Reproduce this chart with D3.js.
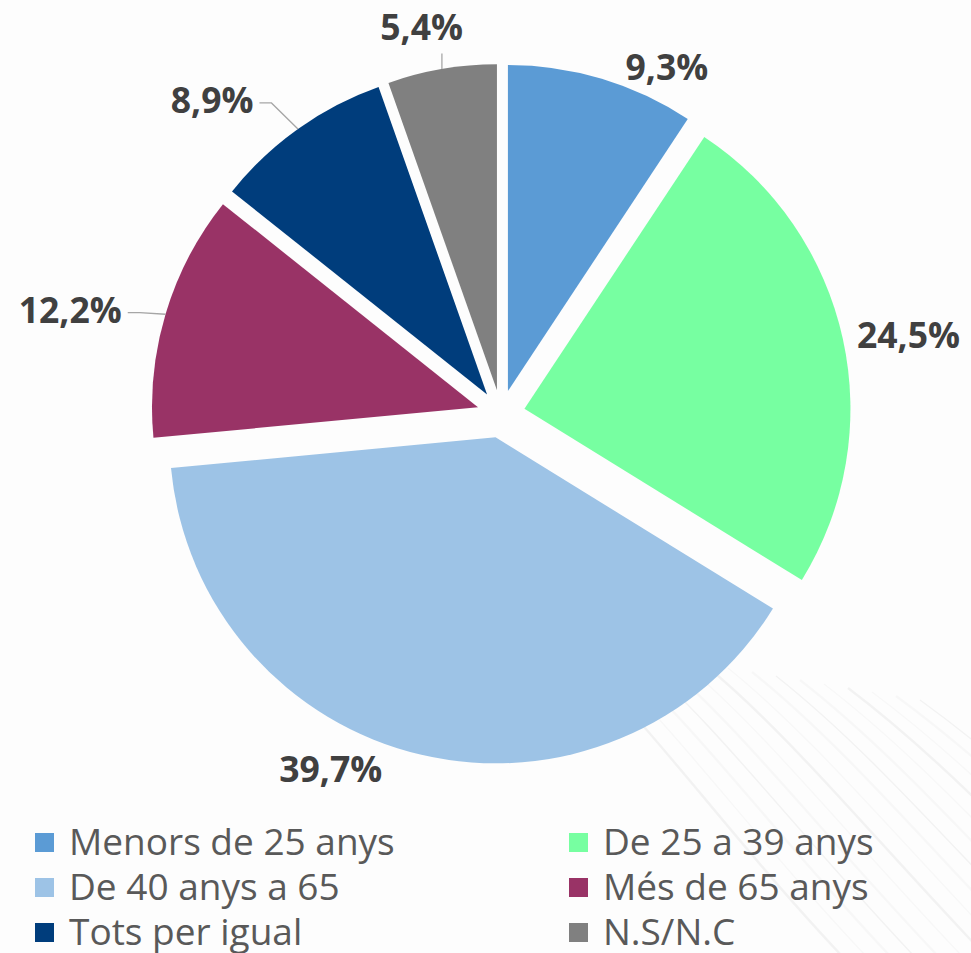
<!DOCTYPE html>
<html>

<head>
    <meta charset="utf-8">
    <title>Distribució per edats</title>
    <script src="https://d3js.org/d3.v7.min.js"></script>
    <style>
        html, body { margin: 0; padding: 0; background: #fdfdfd; }
        svg { display: block; }
    </style>
</head>

<body>
    <script>
        // chart data
        const categories = ["Menors de 25 anys", "De 25 a 39 anys", "De 40 anys a 65", "Més de 65 anys", "Tots per igual", "N.S/N.C"];
        const values = [9.3, 24.5, 39.7, 12.2, 8.9, 5.4];
        const colors = ["#5B9BD5", "#77FFA1", "#9DC3E6", "#993366", "#003D7C", "#808080"];

        // where each value label sits: [angle in degrees from 12 o'clock, distance from pie centre]
        const labelPolar = [[25.6, 384], [79.1, 415], [205.6, 394], [283.5, 443], [317.3, 426], [348.4, 395]];
        // leader line type per label (null = none)
        const leaders = [null, null, null, "right", "right", "bottom"];

        const width = 971;
        const height = 953;
        const cx = 501, cy = 414;
        const radius = 326;
        const explode = 24;

        const svg = d3.select("body").append("svg")
            .attr("width", width)
            .attr("height", height);

        // faint background streaks, bottom right
        const bg = svg.append("g").attr("fill", "none").attr("stroke", "#000");
        d3.range(16).forEach(i => {
            const x0 = 560 + i * 24;
            bg.append("path")
                .attr("d", `M${x0},${640 + i * 4} C${x0 + 90},${720 + i * 3} ${x0 + 170},${840} ${x0 + 300},${975}`)
                .attr("stroke-opacity", i % 3 === 0 ? 0.045 : 0.022)
                .attr("stroke-width", i % 2 === 0 ? 2.5 : 1.5);
        });

        const pie = d3.pie().sort(null).value(d => d)(values);
        const arc = d3.arc().innerRadius(0).outerRadius(radius);

        const toRad = deg => deg * Math.PI / 180;
        const polar = (a, r) => [Math.sin(a) * r, -Math.cos(a) * r];

        const g = svg.append("g").attr("transform", `translate(${cx},${cy})`);

        const slices = g.selectAll("g.slice")
            .data(pie)
            .enter().append("g")
            .attr("class", "slice")
            .attr("transform", d => {
                const [dx, dy] = polar((d.startAngle + d.endAngle) / 2, explode);
                return `translate(${dx},${dy})`;
            });

        slices.append("path")
            .attr("d", arc)
            .attr("fill", (d, i) => colors[i]);

        // value labels
        const fmt = v => d3.format(".1f")(v).replace(".", ",") + "%";
        const labels = g.append("g")
            .style("font-family", "'Open Sans', sans-serif")
            .style("font-weight", 700)
            .style("font-size", "35.5px")
            .attr("fill", "#404040");

        pie.forEach((d, i) => {
            const [lx, ly] = polar(toRad(labelPolar[i][0]), labelPolar[i][1]);
            const t = labels.append("text")
                .attr("x", lx)
                .attr("y", ly + 12.5)
                .attr("text-anchor", "middle")
                .text(fmt(values[i]));

            if (!leaders[i]) return;
            const box = t.node().getBBox();
            const mid = (d.startAngle + d.endAngle) / 2;
            const [ox, oy] = polar(mid, explode);
            const [px, py] = polar(mid, radius);
            const p0 = [ox + px, oy + py];
            let pts;
            if (leaders[i] === "bottom") {
                pts = [p0, [p0[0], box.y + box.height + 4]];
            } else {
                const end = [box.x + box.width + 6, ly + 2];
                pts = [p0, [end[0] + 12, end[1]], end];
            }
            g.append("path")
                .attr("d", d3.line()(pts))
                .attr("fill", "none")
                .attr("stroke", "#a6a6a6")
                .attr("stroke-width", 1.3);
        });

        // legend, two columns
        const legend = svg.append("g")
            .style("font-family", "'Open Sans', sans-serif")
            .style("font-size", "37px")
            .attr("fill", "#595959");

        const colX = [35, 569];
        const rowY = [855, 900, 945];

        categories.forEach((c, i) => {
            const x = colX[i % 2];
            const y = rowY[Math.floor(i / 2)];
            legend.append("rect")
                .attr("x", x)
                .attr("y", y - 22)
                .attr("width", 19)
                .attr("height", 19)
                .attr("fill", colors[i]);
            legend.append("text")
                .attr("x", x + 34)
                .attr("y", y)
                .text(c);
        });
    </script>
</body>

</html>
